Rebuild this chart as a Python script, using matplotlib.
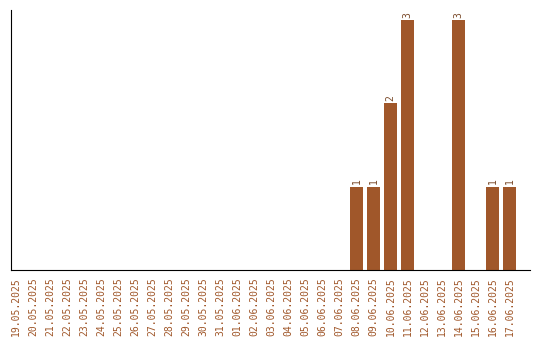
import matplotlib
matplotlib.use("Agg")
import matplotlib.pyplot as plt

dates = ["19.05.2025", "20.05.2025", "21.05.2025", "22.05.2025", "23.05.2025",
         "24.05.2025", "25.05.2025", "26.05.2025", "27.05.2025", "28.05.2025",
         "29.05.2025", "30.05.2025", "31.05.2025", "01.06.2025", "02.06.2025",
         "03.06.2025", "04.06.2025", "05.06.2025", "06.06.2025", "07.06.2025",
         "08.06.2025", "09.06.2025", "10.06.2025", "11.06.2025", "12.06.2025",
         "13.06.2025", "14.06.2025", "15.06.2025", "16.06.2025", "17.06.2025"]
values = [0, 0, 0, 0, 0, 0, 0, 0, 0, 0, 0, 0, 0, 0, 0,
          0, 0, 0, 0, 0, 1, 1, 2, 3, 0, 0, 3, 0, 1, 1]

color = "#A0572A"
fig = plt.figure(figsize=(5.4, 3.4), dpi=100)
ax = fig.add_axes([11/540, 70/340, 519/540, 260/340])
x = list(range(len(dates)))
ax.bar(x, values, width=0.76, color=color)
for xi, v in zip(x, values):
    if v > 0:
        ax.text(xi, v + 0.03, str(v), rotation=90, ha="center", va="bottom",
                fontsize=7, color="#7a4a2a", family="DejaVu Sans Mono")
ax.set_xlim(-0.3, len(dates) + 0.2)
ax.set_ylim(0, 3.12)
ax.set_xticks(x)
ax.set_xticklabels(dates, rotation=90, fontsize=7, color=color, family="DejaVu Sans Mono")
ax.tick_params(axis="x", length=0, pad=5)
ax.set_yticks([])
ax.spines["top"].set_visible(False)
ax.spines["right"].set_visible(False)
fig.savefig("out.png", dpi=100)
